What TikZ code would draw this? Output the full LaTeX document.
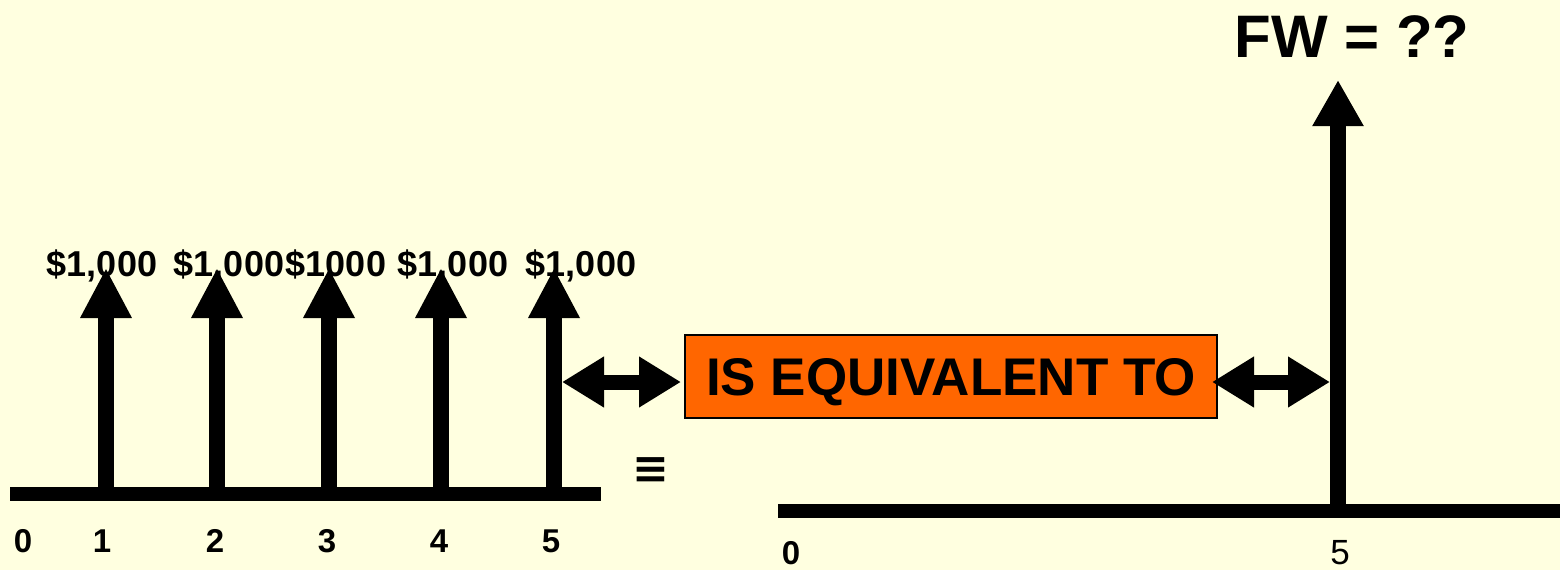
\documentclass[tikz,border=0pt]{standalone}
\usepackage{fontspec}
\setmainfont{Liberation Sans}
\newfontfamily\dejavu{DejaVu Sans}
\usetikzlibrary{arrows.meta}
\definecolor{bgyel}{HTML}{FFFFE0}
\definecolor{boxor}{HTML}{FF6600}
\begin{document}
\begin{tikzpicture}[x=1pt,y=-1pt,
  axisline/.style={line width=14pt},
  flow/.style={line width=16pt,-{Triangle[length=50pt,width=48pt]}},
  bidir/.style={line width=15pt,{Triangle[length=42pt,width=48pt]}-{Triangle[length=42pt,width=48pt]}},
  amt/.style={font=\bfseries\fontsize{36}{40}\selectfont,inner sep=0pt,anchor=base},
  ticklab/.style={font=\bfseries\fontsize{33}{38}\selectfont,inner sep=0pt,anchor=base},
]
\fill[bgyel] (0,0) rectangle (1560,570);
\useasboundingbox (0,0) rectangle (1560,570);

% left axis
\coordinate (la0) at (10,494);
\coordinate (la1) at (601,494);
\draw[axisline] (la0) -- (la1);

% cash flow arrows
\foreach \i/\x in {1/106,2/217,3/329,4/441,5/554}{
  \coordinate (b\i) at (\x,487);
  \coordinate (t\i) at (\x,268);
  \draw[flow] (b\i) -- (t\i);
}

% amounts
\node[amt] (m1) at (102,276) {\$1,000};
\node[amt] (m2) at (229,276) {\$1,000};
\node[amt] (m3) at (336,276) {\$1000};
\node[amt] (m4) at (453,276) {\$1,000};
\node[amt] (m5) at (581,276) {\$1,000};

% tick labels left
\node[ticklab] (n0) at (23,552) {0};
\node[ticklab] (n1) at (102,552) {1};
\node[ticklab] (n2) at (215,552) {2};
\node[ticklab] (n3) at (327,552) {3};
\node[ticklab] (n4) at (439,552) {4};
\node[ticklab] (n5) at (551,552) {5};

% equivalence box
\node[draw=black,line width=1.5pt,fill=boxor,minimum width=532pt,minimum height=83pt,
      inner sep=0pt,text depth=0pt,font=\bfseries\fontsize{53}{60}\selectfont]
      (box) at (951,376.5) {IS EQUIVALENT TO};

% double arrows
\coordinate (dl0) at (562,382);
\coordinate (dl1) at (681,382);
\draw[bidir] (dl0) -- (dl1);
\coordinate (dr0) at (1212,382);
\coordinate (dr1) at (1330,382);
\draw[bidir] (dr0) -- (dr1);

% equivalence symbol
\node[font=\dejavu\bfseries\fontsize{44}{48}\selectfont,inner sep=0pt] (eq) at (651,471) {≡};

% right axis
\coordinate (ra0) at (778,511);
\coordinate (ra1) at (1560,511);
\draw[axisline] (ra0) -- (ra1);

% FW arrow
\coordinate (fb) at (1338,504);
\coordinate (ft) at (1338,80);
\draw[line width=16pt,-{Triangle[length=46pt,width=48pt]}] (fb) -- (ft);

\node[font=\bfseries\fontsize{60}{70}\selectfont,inner sep=0pt,anchor=base] (fw) at (1352,57) {FW = ??};

\node[ticklab] (r0) at (791,564) {0};
\node[font=\fontsize{35}{40}\selectfont,inner sep=0pt,anchor=base] (r5) at (1340,564) {5};
\end{tikzpicture}
\end{document}
